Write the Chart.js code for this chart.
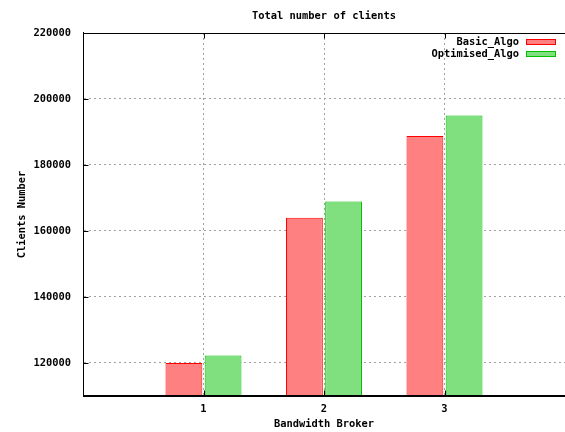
<!DOCTYPE html>
<html>
<head>
<meta charset="utf-8">
<script src="https://cdn.jsdelivr.net/npm/chart.js@4/dist/chart.umd.min.js"></script>
<style>
  html, body { margin: 0; padding: 0; background: #fff; }
  #wrap { width: 565px; height: 432px; }
</style>
</head>
<body>
<div id="wrap"><canvas id="c" width="565" height="432"></canvas></div>
<script>
// Bandwidth broker categories and client counts per algorithm
const brokers = ['1', '2', '3'];
const basicAlgo = [120000, 164000, 188800];
const optimisedAlgo = [122300, 168900, 195000];
const yTicks = [120000, 140000, 160000, 180000, 200000, 220000];
const yMin = 110000;
const yMax = 220000;

const FONT = '"DejaVu Sans Mono", "Liberation Mono", monospace';
const fontSpec = { family: FONT, size: 10.4, weight: 'bold' };

// empty slots at both ends give the x range 0..4
const axisLabels = ['', ...brokers, ''];
const padSeries = arr => [null, ...arr, null];

const series = [
  { label: 'Basic_Algo', values: basicAlgo, fill: '#ff8080', stroke: '#ff0000' },
  { label: 'Optimised_Algo', values: optimisedAlgo, fill: '#80e080', stroke: '#00c000' }
];

// frame, inward tick marks and key box
const framePlugin = {
  id: 'frame',
  afterDraw(chart) {
    const { ctx, chartArea: a, scales: { x, y } } = chart;
    ctx.save();
    ctx.strokeStyle = '#000';
    ctx.lineWidth = 1;
    ctx.beginPath();
    const L = Math.round(a.left) + 0.5, T = Math.round(a.top) + 0.5, B = Math.round(a.bottom) - 0.5;
    ctx.moveTo(L, T); ctx.lineTo(a.right, T);
    ctx.moveTo(L, T); ctx.lineTo(L, B);
    ctx.moveTo(L, B); ctx.lineTo(a.right, B);
    yTicks.forEach(v => {
      if (v >= yMax) return;
      const py = Math.round(y.getPixelForValue(v)) + 0.5;
      ctx.moveTo(L, py); ctx.lineTo(L + 5, py);
    });
    brokers.forEach((b, i) => {
      const px = Math.round(x.getPixelForValue(i + 1)) + 0.5;
      ctx.moveTo(px, B); ctx.lineTo(px, B - 5);
      ctx.moveTo(px, T); ctx.lineTo(px, T + 5);
    });
    ctx.stroke();

    // key
    ctx.font = 'bold 10.4px ' + FONT;
    ctx.textAlign = 'right';
    ctx.textBaseline = 'middle';
    chart.data.datasets.forEach((ds, i) => {
      const cy = Math.round(a.top + 9 + i * 12);
      ctx.fillStyle = '#000';
      ctx.fillText(ds.label, 519, cy);
      ctx.fillStyle = ds.backgroundColor;
      ctx.fillRect(526, cy - 3, 30, 5);
      ctx.strokeStyle = ds.borderColor;
      ctx.strokeRect(526.5, cy - 2.5, 29, 5);
    });
    ctx.restore();
  }
};

new Chart(document.getElementById('c'), {
  type: 'bar',
  data: {
    labels: axisLabels,
    datasets: series.map(s => ({
      label: s.label,
      data: padSeries(s.values),
      backgroundColor: s.fill,
      borderColor: s.stroke,
      borderWidth: 1,
      base: yMin,
      categoryPercentage: 0.65,
      barPercentage: 0.94
    }))
  },
  options: {
    responsive: false,
    animation: false,
    devicePixelRatio: 1,
    layout: { padding: { left: 0, right: -2, top: 0, bottom: 0 } },
    plugins: {
      legend: { display: false },
      tooltip: { enabled: false },
      title: {
        display: true,
        text: 'Total number of clients',
        fullSize: false,
        color: '#000',
        font: fontSpec,
        padding: { top: 10, bottom: 10.5 }
      }
    },
    scales: {
      x: {
        type: 'category',
        offset: false,
        afterFit: s => { s.height = 36; s.paddingLeft = 0; s.paddingRight = 0; },
        grid: {
          offset: false,
          drawTicks: false,
          color: ctx => (ctx.index === 0 || ctx.index === axisLabels.length - 1) ? 'rgba(0,0,0,0)' : '#a0a0a0',
          lineWidth: 1
        },
        border: { display: true, color: '#000', width: 1, dash: [2, 3] },
        ticks: { color: '#000', font: fontSpec, padding: 7, autoSkip: false, maxRotation: 0 },
        title: { display: true, text: 'Bandwidth Broker', color: '#000', font: fontSpec, padding: { top: 0, bottom: 1 } }
      },
      y: {
        min: yMin,
        max: yMax,
        afterFit: s => { s.width = 83; },
        afterBuildTicks: s => { s.ticks = yTicks.map(v => ({ value: v })); },
        grid: {
          drawTicks: false,
          color: ctx => (ctx.tick && ctx.tick.value >= yMax) ? 'rgba(0,0,0,0)' : '#a0a0a0',
          lineWidth: 1
        },
        border: { display: true, color: '#000', width: 1, dash: [2, 3] },
        ticks: { color: '#000', font: fontSpec, padding: 12, callback: v => String(v) },
        title: { display: true, text: 'Clients Number', color: '#000', font: fontSpec, padding: { top: 16, bottom: 0 } }
      }
    }
  },
  plugins: [framePlugin]
});
</script>
</body>
</html>
